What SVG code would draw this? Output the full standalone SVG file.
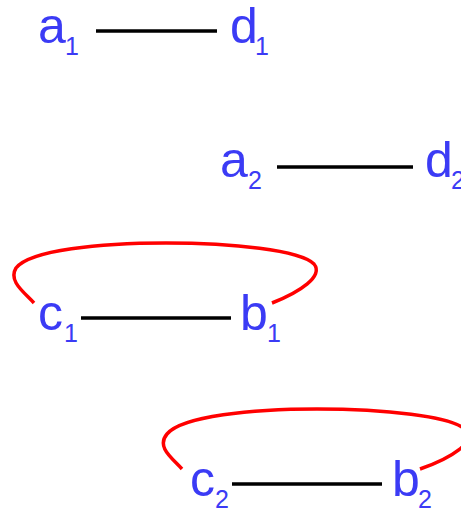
<svg xmlns="http://www.w3.org/2000/svg" width="461" height="511" viewBox="0 0 461 511">
<style>
.lbl{font-family:"Liberation Sans",Arial,sans-serif;font-size:50px;fill:#3b3bf5}
.sub{font-family:"Liberation Sans",Arial,sans-serif;font-size:25px;fill:#3b3bf5}
.edge{stroke:#000;stroke-width:3.5;fill:none}
.arc{stroke:#f00;stroke-width:3.5;fill:none}
</style>
<rect width="461" height="511" fill="#fff"/>
<g id="connectors">
<line class="edge" x1="96" y1="31" x2="217" y2="31"/>
<line class="edge" x1="277" y1="167" x2="413" y2="167"/>
<line class="edge" x1="81" y1="318" x2="231" y2="318"/>
<line class="edge" x1="232" y1="484" x2="382" y2="484"/>
<path class="arc" d="M34 303 C24 292 8 281 16 268 C30 250 100 243 166 243 C232 243 300 250 314 264 C324 276 300 292 272 303"/>
<path class="arc" d="M182 469 C172 458 156 447 167 434 C182 416 252 409 317 409 C383 409 452 416 466 430 C476 442 452 458 420 469"/>
</g>
<g id="a1"><text class="lbl" x="38" y="43">a</text><text class="sub" x="65" y="55">1</text></g>
<g id="d1"><text class="lbl" x="230" y="43">d</text><text class="sub" x="255" y="55">1</text></g>
<g id="a2"><text class="lbl" x="220" y="177">a</text><text class="sub" x="248" y="189">2</text></g>
<g id="d2"><text class="lbl" x="425" y="177">d</text><text class="sub" x="451" y="189">2</text></g>
<g id="c1"><text class="lbl" x="38" y="330">c</text><text class="sub" x="64" y="342">1</text></g>
<g id="b1"><text class="lbl" x="240" y="330">b</text><text class="sub" x="267" y="342">1</text></g>
<g id="c2"><text class="lbl" x="190" y="496">c</text><text class="sub" x="215" y="508">2</text></g>
<g id="b2"><text class="lbl" x="392" y="496">b</text><text class="sub" x="418" y="508">2</text></g>
</svg>
